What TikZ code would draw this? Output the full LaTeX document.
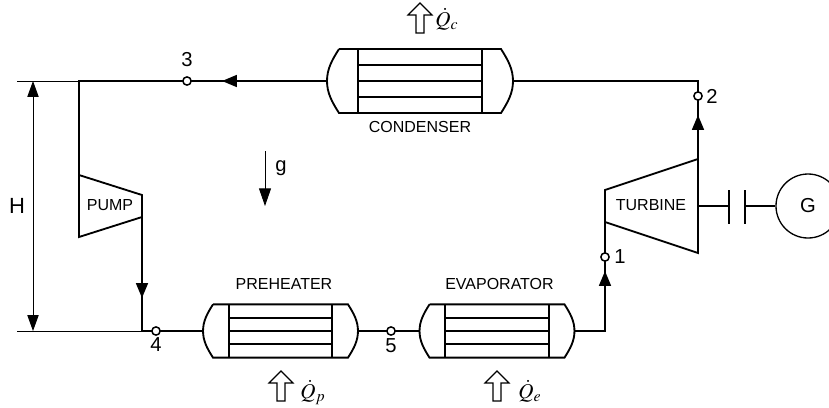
\documentclass[tikz,border=0pt]{standalone}
\usepackage{xcolor}
\usepackage{mathptmx}
\usepackage{fontspec}
\setmainfont{Liberation Sans}
\usetikzlibrary{arrows.meta}
\tikzset{
pipe/.style={line width=1.05pt},
thin line/.style={line width=0.5pt},
flow/.style={pipe,-{Triangle[length=8.5pt,width=6.8pt]}},
dim/.style={thin line,{Triangle[length=9pt,width=6.4pt]}-{Triangle[length=9pt,width=6.4pt]}},
state/.style={circle,draw,fill=white,line width=0.85pt,inner sep=0pt,minimum size=4.7pt},
tag/.style={inner sep=0pt,font=\fontsize{9.1}{10}\selectfont},
num/.style={inner sep=0pt,font=\fontsize{11.5}{12}\selectfont},
heat/.style={inner sep=0pt,anchor=base west,font=\fontsize{12}{13}\selectfont},
block/.style={line width=0.65pt,fill=white}
}
\newcommand{\exchanger}[4]{%
\begin{scope}[shift={(#2,#3)},xscale=#4,yscale=#4]
\draw[pipe] (-81,-32) -- (81,-32) .. controls (88,-21) and (93,-12) .. (93,0) .. controls (93,12) and (88,21) .. (81,32) -- (-81,32) .. controls (-88,21) and (-93,12) .. (-93,0) .. controls (-93,-12) and (-88,-21) .. (-81,-32);
\draw[pipe] (-62,-32) -- (-62,32);
\draw[pipe] (62,-32) -- (62,32);
\foreach \y in {-16,0,16}\draw[pipe] (-62,\y) -- (62,\y);
\coordinate (#1-in) at (-93,0);
\coordinate (#1-out) at (93,0);
\end{scope}}
\newcommand{\heatarrow}[2]{\draw[block,shift={(#1,#2)}] (0,0) -- (12,12) -- (4,12) -- (4,30) -- (-4,30) -- (-4,12) -- (-12,12) -- cycle;}
\begin{document}
\begin{tikzpicture}[x=0.02cm,y=-0.02cm]
\useasboundingbox (0,0) rectangle (829,407);
\exchanger{condenser}{420}{81}{1}
\exchanger{preheater}{280.5}{331}{0.833}
\exchanger{evaporator}{497}{331}{0.833}
\coordinate (PipeCorner) at (79,81);
\coordinate (PumpIn) at (79,175);
\coordinate (PumpOut) at (142,217);
\coordinate (PumpFoot) at (142,331);
\coordinate (TurbineIn) at (605,222);
\coordinate (TurbineOut) at (698,159);
\coordinate (TurbineShaft) at (698,206);
\coordinate (EvapCorner) at (605,331);
\coordinate (TopCorner) at (698,81);
\coordinate (Tip3) at (222,81);
\coordinate (Tip4) at (142,298);
\coordinate (Tip1) at (605,271);
\coordinate (Tip2) at (698,115);
\coordinate (HeadTop) at (33,81);
\coordinate (HeadBottom) at (33,331);
\coordinate (ThinTop) at (17,81);
\coordinate (ThinBottom) at (17,331);
\coordinate (ClutchLeftTop) at (729,190);
\coordinate (ClutchLeftBottom) at (729,224);
\coordinate (ClutchRightTop) at (745,190);
\coordinate (ClutchRightBottom) at (745,224);
\coordinate (ClutchLeft) at (729,206);
\coordinate (ClutchRight) at (745,206);
\node[circle,draw,line width=0.75pt,inner sep=0pt,minimum size=64*0.02cm] (Generator) at (808,206) {\fontsize{11.5}{12}\selectfont G};
\draw[pipe] (PumpIn) -- (79,237) -- (PumpOut) -- (142,195) -- cycle;
\draw[pipe] (TurbineIn) -- (605,190) -- (TurbineOut) -- (698,253) -- cycle;
\draw[pipe] (condenser-in) -- (PipeCorner) -- (PumpIn);
\draw[flow] (condenser-in) -- (Tip3);
\draw[pipe] (PumpOut) -- (PumpFoot) -- (preheater-in);
\draw[flow] (PumpOut) -- (Tip4);
\draw[pipe] (preheater-out) -- (evaporator-in);
\draw[pipe] (evaporator-out) -| (TurbineIn);
\draw[flow] (EvapCorner) -- (Tip1);
\draw[pipe] (TurbineOut) -- (TopCorner) -- (condenser-out);
\draw[flow] (TurbineOut) -- (Tip2);
\draw[thin line] (ThinTop) -- (PipeCorner);
\draw[thin line] (ThinBottom) -- (PumpFoot);
\draw[dim] (HeadTop) -- (HeadBottom);
\draw[line width=0.75pt] (TurbineShaft) -- (ClutchLeft);
\draw[line width=0.75pt] (ClutchLeftTop) -- (ClutchLeftBottom);
\draw[line width=0.75pt] (ClutchRightTop) -- (ClutchRightBottom);
\draw[line width=0.75pt] (ClutchRight) -- (Generator);
\node[state] (P1) at (605,257) {};
\node[state] (P2) at (698,96) {};
\node[state] (P3) at (187,81) {};
\node[state] (P4) at (156,331) {};
\node[state] (P5) at (391,331) {};
\node[num] (Label1) at (620,257) {1};
\node[num] (Label2) at (712,96) {2};
\node[num] (Label3) at (187,60) {3};
\node[num] (Label4) at (156,345) {4};
\node[num] (Label5) at (391,346) {5};
\node[tag] (LabelCondenser) at (420,127) {CONDENSER};
\node[tag] (LabelPreheater) at (284,284) {PREHEATER};
\node[tag] (LabelEvaporator) at (499.5,284) {EVAPORATOR};
\node[tag] (LabelPump) at (110,205) {PUMP};
\node[tag] (LabelTurbine) at (651,205) {TURBINE};
\node[inner sep=0pt,font=\fontsize{12.5}{13}\selectfont] (LabelH) at (17,206) {H};
\coordinate (GravityTop) at (265,151);
\coordinate (GravityTip) at (265,206);
\draw[thin line,-{Triangle[length=10pt,width=6.8pt]}] (GravityTop) -- (GravityTip);
\node[num] (LabelGravity) at (281,168) {g};
\heatarrow{420}{3}
\heatarrow{281}{371}
\heatarrow{497}{371}
\node[heat] (HeatC) at (435,26) {$\dot{Q}_c$};
\node[heat] (HeatP) at (300,398) {$\dot{Q}_p$};
\node[heat] (HeatE) at (518,398) {$\dot{Q}_e$};
\end{tikzpicture}
\end{document}
